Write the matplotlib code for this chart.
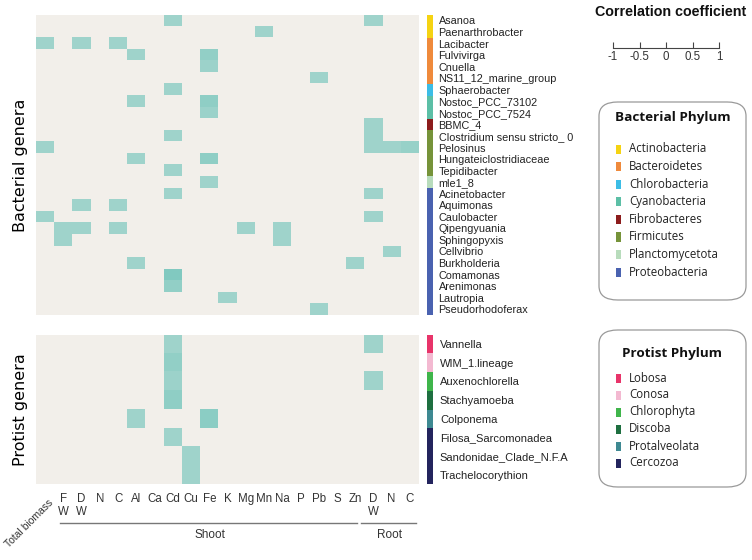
import matplotlib
matplotlib.use("Agg")
import matplotlib.pyplot as plt
import numpy as np
from matplotlib.colors import LinearSegmentedColormap
from matplotlib.patches import FancyBboxPatch, Rectangle

# ---------------- data ----------------
columns = ["Total biomass", "Shoot FW", "Shoot DW", "Shoot N", "Shoot C", "Al", "Ca", "Cd",
           "Cu", "Fe", "K", "Mg", "Mn", "Na", "P", "Pb", "S", "Zn",
           "Root DW", "Root N", "Root C"]
col_labels = ["Total biomass", "F\nW", "D\nW", "N", "C", "Al", "Ca", "Cd", "Cu", "Fe", "K",
              "Mg", "Mn", "Na", "P", "Pb", "S", "Zn", "D\nW", "N", "C"]

bact_genera = ["Asanoa", "Paenarthrobacter", "Lacibacter", "Fulvivirga", "Cnuella",
               "NS11_12_marine_group", "Sphaerobacter", "Nostoc_PCC_73102", "Nostoc_PCC_7524",
               "BBMC_4", "Clostridium sensu stricto_ 0", "Pelosinus", "Hungateiclostridiaceae",
               "Tepidibacter", "mle1_8", "Acinetobacter", "Aquimonas", "Caulobacter",
               "Qipengyuania", "Sphingopyxis", "Cellvibrio", "Burkholderia", "Comamonas",
               "Arenimonas", "Lautropia", "Pseudorhodoferax"]
bact_phylum = ["Actinobacteria"] * 2 + ["Bacteroidetes"] * 4 + ["Chlorobacteria"] + \
              ["Cyanobacteria"] * 2 + ["Fibrobacteres"] + ["Firmicutes"] * 4 + \
              ["Planctomycetota"] + ["Proteobacteria"] * 11

bact_corr = {
    "Asanoa": {"Cd": 0.5, "Root DW": 0.5},
    "Paenarthrobacter": {"Mn": 0.5},
    "Lacibacter": {"Total biomass": 0.5, "Shoot DW": 0.5, "Shoot C": 0.5},
    "Fulvivirga": {"Al": 0.5, "Fe": 0.58},
    "Cnuella": {"Fe": 0.52},
    "NS11_12_marine_group": {"Pb": 0.5},
    "Sphaerobacter": {"Cd": 0.5},
    "Nostoc_PCC_73102": {"Al": 0.5, "Fe": 0.6},
    "Nostoc_PCC_7524": {"Fe": 0.53},
    "BBMC_4": {"Root DW": 0.5},
    "Clostridium sensu stricto_ 0": {"Cd": 0.5, "Root DW": 0.5},
    "Pelosinus": {"Total biomass": 0.5, "Root DW": 0.5, "Root N": 0.5, "Root C": 0.55},
    "Hungateiclostridiaceae": {"Al": 0.5, "Fe": 0.6},
    "Tepidibacter": {"Cd": 0.5},
    "mle1_8": {"Fe": 0.5},
    "Acinetobacter": {"Cd": 0.5, "Root DW": 0.5},
    "Aquimonas": {"Shoot DW": 0.5, "Shoot C": 0.5},
    "Caulobacter": {"Total biomass": 0.5, "Root DW": 0.5},
    "Qipengyuania": {"Shoot FW": 0.5, "Shoot DW": 0.5, "Shoot C": 0.5, "Mg": 0.5, "Na": 0.5},
    "Sphingopyxis": {"Shoot FW": 0.5, "Na": 0.5},
    "Cellvibrio": {"Root N": 0.5},
    "Burkholderia": {"Al": 0.5, "Zn": 0.5},
    "Comamonas": {"Cd": 0.68},
    "Arenimonas": {"Cd": 0.58},
    "Lautropia": {"K": 0.5},
    "Pseudorhodoferax": {"Pb": 0.5},
}

prot_genera = ["Vannella", "WIM_1.lineage", "Auxenochlorella", "Stachyamoeba", "Colponema",
               "Filosa_Sarcomonadea", "Sandonidae_Clade_N.F.A", "Trachelocorythion"]
prot_phylum = ["Lobosa", "Conosa", "Chlorophyta", "Discoba", "Protalveolata",
               "Cercozoa", "Cercozoa", "Cercozoa"]
prot_corr = {
    "Vannella": {"Cd": 0.5, "Root DW": 0.5},
    "WIM_1.lineage": {"Cd": 0.58},
    "Auxenochlorella": {"Cd": 0.52, "Root DW": 0.5},
    "Stachyamoeba": {"Cd": 0.6},
    "Colponema": {"Al": 0.5, "Fe": 0.62},
    "Filosa_Sarcomonadea": {"Cd": 0.5},
    "Sandonidae_Clade_N.F.A": {"Cu": 0.5},
    "Trachelocorythion": {"Cu": 0.5},
}

bact_phyla = ["Actinobacteria", "Bacteroidetes", "Chlorobacteria", "Cyanobacteria",
              "Fibrobacteres", "Firmicutes", "Planctomycetota", "Proteobacteria"]
bact_colors = ["#f5d313", "#ef8a3c", "#3cbde6", "#5cbfa6", "#8c1c1c", "#76933a",
               "#b8dcbc", "#4a62b0"]
prot_phyla = ["Lobosa", "Conosa", "Chlorophyta", "Discoba", "Protalveolata", "Cercozoa"]
prot_colors = ["#e8346a", "#f3b9d1", "#3fb54b", "#1e6f40", "#3e8992", "#23245d"]

cbar_ticks = [-1, -0.5, 0, 0.5, 1]

# ---------------- figure ----------------
W, H = 752, 560
fig = plt.figure(figsize=(W / 100, H / 100), dpi=100)


def fx(px):
    return px / W


def fy(py):
    return 1 - py / H


def axes_px(x0, y0, x1, y1):
    return fig.add_axes([fx(x0), fy(y1), fx(x1 - x0), (y1 - y0) / H])


cmap = LinearSegmentedColormap.from_list("corr", ["#8c510a", "#f3f0eb", "#4db8ad"])


def matrix(genera, corr):
    m = np.zeros((len(genera), len(columns)))
    for i, g in enumerate(genera):
        for c, v in corr.get(g, {}).items():
            m[i, columns.index(c)] = v
    return m


font_lab = "Liberation Sans"
font_leg = "Open Sans"

x0, x1 = 36, 419
top_y0, top_y1 = 14.7, 315
bot_y0, bot_y1 = 334.7, 484.3

ax_b = axes_px(x0, top_y0, x1, top_y1)
ax_b.imshow(matrix(bact_genera, bact_corr), cmap=cmap, vmin=-1, vmax=1, aspect="auto",
            interpolation="nearest")
ax_b.set_xticks([]); ax_b.set_yticks([])
for s in ax_b.spines.values():
    s.set_visible(False)
ax_b.set_ylabel("Bacterial genera", fontsize=11.5, family="DejaVu Sans", labelpad=6)

ax_p = axes_px(x0, bot_y0, x1, bot_y1)
ax_p.imshow(matrix(prot_genera, prot_corr), cmap=cmap, vmin=-1, vmax=1, aspect="auto",
            interpolation="nearest")
ax_p.set_yticks([])
for s in ax_p.spines.values():
    s.set_visible(False)
ax_p.set_ylabel("Protist genera", fontsize=11.5, family="DejaVu Sans", labelpad=6)
ax_p.set_xticks([])

# x labels
for i, lab in enumerate(col_labels):
    if i == 0:
        ax_p.text(i + 0.15, 8.2, lab, rotation=45, ha="right", va="top",
                  rotation_mode="anchor", fontsize=7.5, family=font_lab, color="#333333")
    else:
        ax_p.text(i, 7.95, lab, ha="center", va="top", fontsize=8.3, family=font_lab,
                  color="#333333", linespacing=1.15)

# group lines
line_y = fy(523)
fig.add_artist(plt.Line2D([fx(60), fx(357)], [line_y, line_y], color="#777777", lw=1))
fig.add_artist(plt.Line2D([fx(361), fx(416)], [line_y, line_y], color="#777777", lw=1))
fig.text(fx(210), fy(535), "Shoot", ha="center", va="center", fontsize=8.5,
         family=font_lab, color="#333333")
fig.text(fx(389), fy(535), "Root", ha="center", va="center", fontsize=8.5,
         family=font_lab, color="#333333")


# color strips with labels
def strip(y0, y1, genera, phylum, phyla, colors):
    ax = axes_px(427, y0, 433, y1)
    n = len(genera)
    for i, p in enumerate(phylum):
        ax.add_patch(Rectangle((0, i - 0.5), 1, 1, color=colors[phyla.index(p)], lw=0))
    ax.set_xlim(0, 1)
    ax.set_ylim(n - 0.5, -0.5)
    ax.set_xticks([])
    ax.yaxis.tick_right()
    ax.set_yticks(range(n))
    ax.set_yticklabels(genera, fontsize=7.8, family=font_lab, color="#222222")
    ax.tick_params(axis="y", length=0, pad=4)
    for s in ax.spines.values():
        s.set_visible(False)
    return ax


strip(top_y0, top_y1, bact_genera, bact_phylum, bact_phyla, bact_colors)
ax_sp = strip(bot_y0, bot_y1, prot_genera, prot_phylum, prot_phyla, prot_colors)
ax_sp.tick_params(axis="y", pad=5)
for t in ax_sp.get_yticklabels():
    t.set_fontsize(8)

# correlation coefficient scale
fig.text(fx(671), fy(12), "Correlation coefficient", ha="center", va="center",
         fontsize=10.3, fontweight="bold", family="Liberation Sans", color="#111111")
ax_c = axes_px(613, 40, 719, 48)
ax_c.set_xlim(-1, 1)
ax_c.set_ylim(0, 1)
ax_c.set_yticks([])
for k in ["top", "left", "right"]:
    ax_c.spines[k].set_visible(False)
ax_c.patch.set_visible(False)
ax_c.spines["bottom"].set_color("#444444")
ax_c.spines["bottom"].set_linewidth(0.8)
ax_c.set_xticks(cbar_ticks)
ax_c.set_xticklabels(["-1", "-0.5", "0", "0.5", "1"], fontsize=8.3, family=font_lab,
                     color="#333333")
ax_c.tick_params(axis="x", direction="in", length=4, width=0.8, color="#444444", pad=2)


# legend boxes
def legend_box(x0, y0, x1, y1, title, title_y, entry_y0, dy, names, colors):
    box = FancyBboxPatch((fx(x0), fy(y1)), fx(x1 - x0), (y1 - y0) / H,
                         boxstyle="round,pad=0,rounding_size=0.025",
                         transform=fig.transFigure, facecolor="white",
                         edgecolor="#9a9a9a", lw=0.9)
    fig.add_artist(box)
    fig.text(fx((x0 + x1) / 2), fy(title_y), title, ha="center", va="center",
             fontsize=9.7, fontweight="bold", family=font_leg, color="#111111")
    for i, (n, c) in enumerate(zip(names, colors)):
        yy = entry_y0 + i * dy
        fig.add_artist(Rectangle((fx(616), fy(yy + 4.5)), fx(5), 9 / H,
                                 transform=fig.transFigure, color=c, lw=0))
        fig.text(fx(629), fy(yy), n, ha="left", va="center", fontsize=8.3,
                 family=font_leg, color="#222222")


legend_box(599, 102, 746, 300, "Bacterial Phylum", 117, 149, 17.6, bact_phyla, bact_colors)
legend_box(599, 330, 746, 487, "Protist Phylum", 353, 378, 17.0, prot_phyla, prot_colors)

fig.savefig("out.png", dpi=100, facecolor="white")
